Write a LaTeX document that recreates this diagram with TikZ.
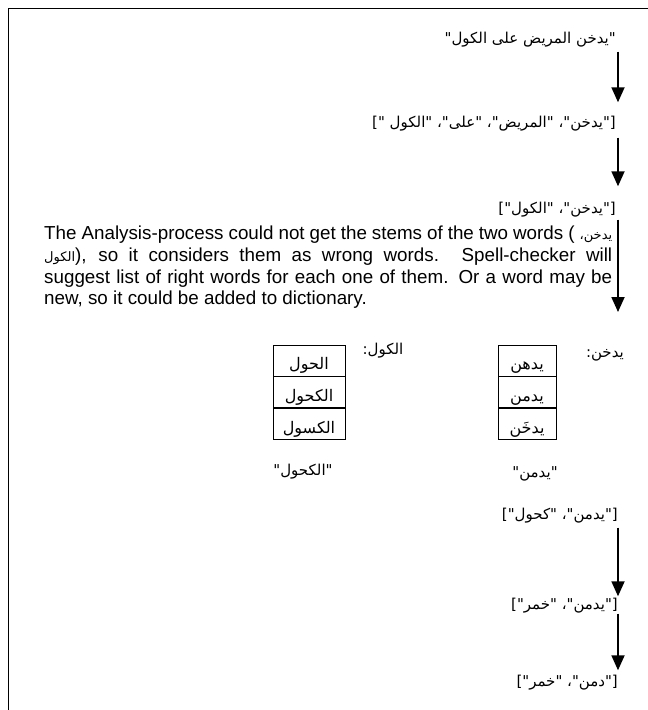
\documentclass[tikz,border=0pt]{standalone}
\usepackage{fontspec}
\setmainfont{Liberation Sans}
\newfontfamily\ar[Script=Arabic]{DejaVu Sans}
\TeXXeTstate=1
\usetikzlibrary{arrows.meta,positioning}

\tikzset{
  word/.style={inner sep=0pt, font=\fontsize{15}{18}\selectfont\ar},
  flow/.style={line width=1.8pt, -{Triangle[width=13pt,length=15pt]}},
  cell/.style={draw, line width=0.8pt, minimum height=31pt, inner sep=0pt,
    text height=18pt, text depth=0pt, font=\fontsize{16}{19}\selectfont\ar},
  note/.style={inner sep=0pt, text width=568pt, align=justify,
    font=\fontsize{18.8}{21.6}\selectfont},
}
\newcommand{\arsmall}{\fontsize{13}{16}\selectfont\ar}

\begin{document}
\begin{tikzpicture}[x=1pt,y=-1pt]
\useasboundingbox (0,0) rectangle (648,710);
\draw[line width=0.8pt] (8,710) -- (8,8) -- (648,8);

% analysis steps
\coordinate (rail) at (618,0);
\node[word, anchor=east] (s1) at (616,40) {\beginR"يدخن المريض على الكول"\endR};
\node[word, anchor=east] (s2) at (616,124) {\beginR["يدخن"، "المريض"، "على"، "الكول "]\endR};
\node[word, anchor=east] (s3) at (616,210) {\beginR["يدخن"، "الكول"]\endR};
\node[note, anchor=north west] (note) at (44,226)
  {The Analysis-process could not get the stems of the two words ( {\arsmall يدخن،}\linebreak
   {\arsmall الكول}), so it considers them as wrong words. Spell-checker will\linebreak
   suggest list of right words for each one of them. Or a word may be\linebreak
   new, so it could be added to dictionary.};
\coordinate (e3) at (618,312);

\draw[flow, shorten <=4pt, shorten >=14pt] (s1.south -| rail) -- (s2.north -| rail);
\draw[flow, shorten <=6pt, shorten >=16pt] (s2.south -| rail) -- (s3.north -| rail);
\draw[flow, shorten <=2pt] (s3.south -| rail) -- (e3);

% suggestions
\node[word, anchor=east] (w1) at (624,355) {{\ar يدخن}:};
\node[cell, minimum width=58pt] (d1) at (527,360.5) {يدهن};
\node[cell, minimum width=58pt, below=0pt of d1] (d2) {يدمن};
\node[cell, minimum width=58pt, below=0pt of d2] (d3) {يدخَن};

\node[word] (w2) at (383,351) {{\ar الكول}:};
\node[cell, minimum width=72pt] (k1) at (309,360.5) {الحول};
\node[cell, minimum width=72pt, below=0pt of k1] (k2) {الكحول};
\node[cell, minimum width=72pt, below=0pt of k2] (k3) {الكسول};

\node[word] (q1) at (303,472) {"الكحول"};
\node[word] (q2) at (535,474) {"يدمن"};

% chosen words
\node[word, anchor=east] (s4) at (618,516) {\beginR["يدمن"، "كحول"]\endR};
\node[word, anchor=east] (s5) at (618,606) {\beginR["يدمن"، "خمر"]\endR};
\node[word, anchor=east] (s6) at (618,683) {\beginR["دمن"، "خمر"]\endR};
\draw[flow, shorten <=4pt, shorten >=2pt] (s4.south -| rail) -- (s5.north -| rail);
\draw[flow, shorten <=0pt, shorten >=5pt] (s5.south -| rail) -- (s6.north -| rail);
\end{tikzpicture}
\end{document}
